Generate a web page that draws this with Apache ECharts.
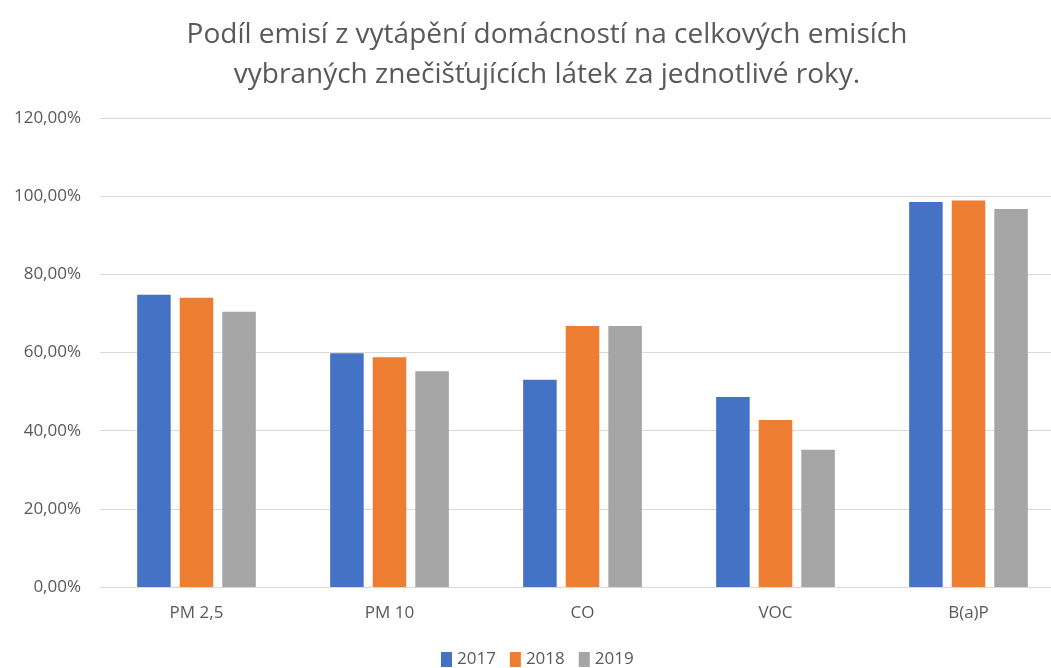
<!DOCTYPE html>
<html>
<head>
<meta charset="utf-8">
<script src="https://cdn.jsdelivr.net/npm/echarts@6/dist/echarts.min.js"></script>
<style>
  html, body { margin: 0; padding: 0; background: #fff; }
  #chart { width: 1051px; height: 668px; }
</style>
</head>
<body>
<div id="chart"></div>
<script>
// kategorie a hodnoty (podíl v %)
const categories = ['PM 2,5', 'PM 10', 'CO', 'VOC', 'B(a)P']
const years = ['2017', '2018', '2019']
const values2017 = [74.8, 59.8, 53.0, 48.6, 98.5]
const values2018 = [74.0, 58.8, 66.8, 42.7, 98.9]
const values2019 = [70.4, 55.2, 66.8, 35.1, 96.7]
const yTicks = [0, 20, 40, 60, 80, 100, 120]

const colors = ['#4472C4', '#ED7D31', '#A5A5A5']
const textColor = '#595959'
const font = 'Open Sans'

const chart = echarts.init(document.getElementById('chart'))

function makeSeries(name, data, i) {
  return {
    name: name,
    type: 'bar',
    data: data,
    barGap: '27%',
    barCategoryGap: '38.5%',
    itemStyle: { color: colors[i] },
    emphasis: { disabled: true }
  }
}

const option = {
  animation: false,
  backgroundColor: '#ffffff',
  title: {
    text: 'Podíl emisí z vytápění domácností na celkových emisích\nvybraných znečišťujících látek za jednotlivé roky.',
    left: 542,
    textAlign: 'center',
    top: 10,
    textStyle: {
      fontFamily: font,
      fontWeight: 'normal',
      fontSize: 28,
      lineHeight: 40,
      color: textColor
    }
  },
  legend: {
    data: years,
    bottom: -5,
    left: 436,
    itemWidth: 11,
    itemHeight: 15,
    itemGap: 14,
    icon: 'rect',
    textStyle: { fontFamily: font, fontSize: 17, color: textColor }
  },
  // plocha grafu v originále přesahuje pravý okraj obrázku
  grid: {
    left: 100,
    width: 965,
    top: 118,
    bottom: 81,
    outerBoundsMode: 'none',
    containLabel: false
  },
  xAxis: {
    type: 'category',
    data: categories,
    axisTick: { show: false },
    axisLine: { lineStyle: { color: '#d9d9d9', width: 1 } },
    axisLabel: { fontFamily: font, fontSize: 17, color: textColor, margin: 18 }
  },
  yAxis: {
    type: 'value',
    min: yTicks[0],
    max: yTicks[yTicks.length - 1],
    interval: 20,
    axisLine: { show: false },
    axisTick: { show: false },
    splitLine: { lineStyle: { color: '#d9d9d9', width: 1 } },
    axisLabel: {
      fontFamily: font,
      fontSize: 17,
      color: textColor,
      margin: 19,
      formatter: v => v.toFixed(2).replace('.', ',') + '%'
    }
  },
  series: [
    makeSeries(years[0], values2017, 0),
    makeSeries(years[1], values2018, 1),
    makeSeries(years[2], values2019, 2)
  ]
}

chart.setOption(option)
</script>
</body>
</html>
